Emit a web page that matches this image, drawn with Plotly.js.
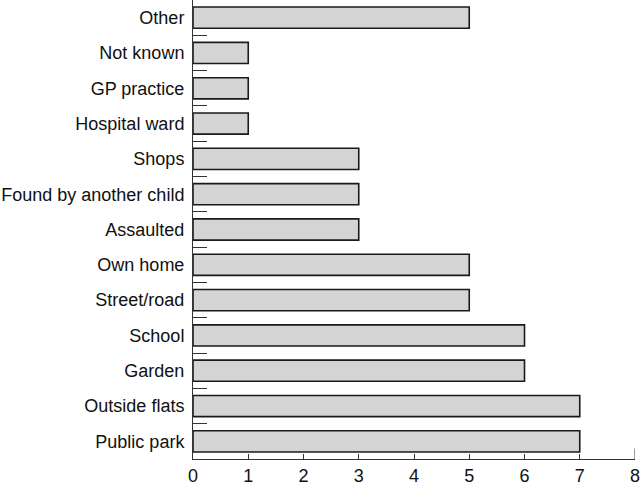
<!DOCTYPE html>
<html>
<head>
<meta charset="utf-8">
<script src="https://cdn.plot.ly/plotly-3.0.1.min.js"></script>
<style>html,body{margin:0;padding:0;background:#fff;overflow:hidden}</style>
</head>
<body>
<div id="chart" style="width:640px;height:482px"></div>
<script>
// Categories listed bottom to top
const categories = ["Public park","Outside flats","Garden","School","Street/road","Own home","Assaulted","Found by another child","Shops","Hospital ward","GP practice","Not known","Other"];
const counts = [7,7,6,6,5,5,3,3,3,1,1,1,5];
const xTicks = [0,1,2,3,4,5,6,7,8];

const fam = "'Liberation Sans', Arial, sans-serif";

Plotly.newPlot("chart", [{
  type: "bar",
  orientation: "h",
  y: categories,
  x: counts,
  marker: {color: "#d4d4d4", line: {color: "#1a1a1a", width: 1.6}},
  hoverinfo: "none"
}], {
  width: 640, height: 482,
  margin: {l: 193, r: 5, t: 0, b: 23, pad: 0},
  paper_bgcolor: "#fff", plot_bgcolor: "#fff",
  font: {family: fam, size: 18, color: "#111"},
  bargap: 0.4,
  showlegend: false,
  xaxis: {
    range: [0, 8], tickvals: xTicks, ticktext: xTicks.map(String),
    ticks: "inside", ticklen: 5, tickwidth: 1, tickcolor: "#333",
    showline: true, linecolor: "#333", linewidth: 1,
    showgrid: false, zeroline: false, fixedrange: true,
    ticklabeloverflow: "allow", ticklabelstandoff: 0,
    tickfont: {family: fam, size: 18, color: "#111"}
  },
  yaxis: {
    type: "category", categoryorder: "array", categoryarray: categories,
    range: [-0.5, 12.5],
    tickson: "boundaries", ticks: "inside", ticklen: 14, tickwidth: 1, tickcolor: "#333",
    showline: true, linecolor: "#333", linewidth: 1,
    showgrid: false, zeroline: false, fixedrange: true,
    ticklabelstandoff: 4,
    tickfont: {family: fam, size: 18, color: "#111"}
  },
  shapes: [{type: "line", xref: "x", yref: "paper", x0: 8, x1: 8, y0: 0, y1: 0.023, line: {color: "#333", width: 1}}]
}, {staticPlot: true, displayModeBar: false});
</script>
</body>
</html>
